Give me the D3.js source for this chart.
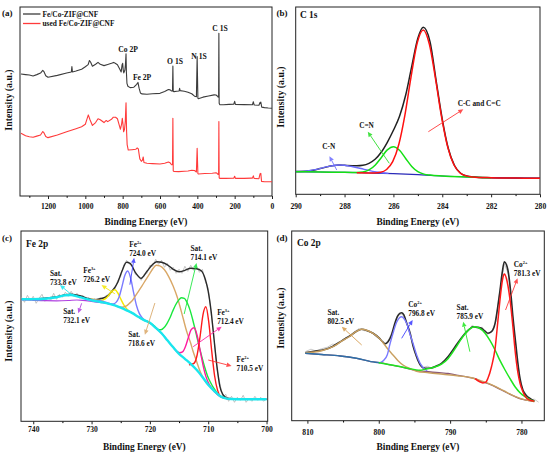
<!DOCTYPE html>
<html>
<head>
<meta charset="utf-8">
<script src="https://cdn.jsdelivr.net/npm/d3@7"></script>
<style>
body { margin: 0; background: #fff; }
text { font-family: "Liberation Serif", "Times New Roman", serif; font-weight: bold; fill: #111; }
</style>
</head>
<body>
<svg id="fig" width="550" height="455"></svg>
<script>
// ---------- (a) survey spectra : [binding energy, intensity a.u.] ----------
const surveyTicks = [0, 200, 400, 600, 800, 1000, 1200];
const surveyMinor = [100, 300, 500, 700, 900, 1100, 1300];
const seriesNames = ["Fe/Co-ZIF@CNF", "used Fe/Co-ZIF@CNF"];
const fresh = [[1345,64.9],[1320,64.6],[1300,64.4],[1280,63.9],[1260,64.6],[1240,65.4],[1228,66.8],[1222,66.2],[1212,64],[1200,63.2],[1150,64.2],[1100,65.4],[1075,66],[1072,68.8],[1069,66],[1050,66.5],[1020,67.4],[1000,68.7],[985,69.8],[978,72],[972,71.2],[962,69],[945,70],[932,71],[920,70],[900,69.3],[880,69.9],[860,70.5],[848,71],[838,70.4],[828,69.8],[816,67.5],[808,66],[803,69.8],[800,70.5],[797,67],[794,65.5],[788,67],[785,70],[782,75.5],[780,66],[777,60],[772,58.5],[760,57.8],[740,58],[725,59.5],[718,60.5],[712,57.5],[705,55],[698,54.5],[670,54.3],[640,54.6],[600,54.8],[575,55.8],[555,56.8],[546,56.6],[538,56],[533,56.2],[531,69.1],[529,55.8],[525,55.7],[510,55.9],[498,56],[495,57.4],[492,56.2],[470,55.9],[450,55.4],[430,54.6],[415,53.3],[405,53],[401,74],[397,52.3],[395,52],[370,52.8],[340,53.4],[310,54],[300,53.9],[293,53.4],[288,52.8],[286,53.2],[284.6,86.2],[283,49.6],[280,48.9],[260,48.8],[230,49],[205,49.1],[200,50.6],[196,49],[150,48.9],[105,48.8],[100,50.4],[96,48.7],[70,48.6],[64,50],[60,50.2],[55,47.6],[40,47.3],[20,47.1],[0,47]];
const used = [[1345,33.9],[1320,32.6],[1300,32.1],[1280,31.8],[1260,32.4],[1240,33],[1228,34.8],[1222,34.2],[1212,32.2],[1200,31.6],[1150,33],[1100,34.7],[1050,36.3],[1020,37.3],[1000,38.6],[993,40.8],[984,43.5],[975,41],[962,38],[945,39.5],[932,41.5],[920,41],[900,39.5],[888,40.6],[880,40],[860,41.2],[850,42.3],[838,42.3],[828,41.5],[818,38],[812,36],[806,38.5],[802,41.7],[798,38.5],[795,34.7],[790,36],[786,40],[782,49.9],[779,35],[776,28],[770,25.1],[750,25.3],[730,25.5],[722,26.2],[716,25.7],[712,23],[708,20.5],[700,19.2],[694,19.8],[690,21.5],[686,18.6],[670,18.2],[640,18],[600,17.8],[575,18.2],[555,18.8],[546,18.4],[538,17.4],[533,17.6],[531,41.7],[529,14.2],[525,13.9],[500,13.8],[470,14],[450,14.1],[430,14.5],[415,14.4],[405,13.6],[401,26],[397,12.8],[395,12.6],[360,12.8],[320,13],[300,13.2],[293,12.8],[288,12.3],[286,12.8],[284.6,40],[283,10.6],[280,10.3],[250,10.3],[205,10.4],[200,11.4],[196,10.3],[150,10.3],[110,10.4],[105,10.4],[100,11.6],[96,10.3],[70,10.1],[64,12.7],[60,12.9],[56,8.7],[40,8.5],[20,8.5],[0,8.5]];
const surveyPeaks = [["Co 2P",771,76.4],["Fe 2P",696,61.8],["O 1S",519.6,70.2],["N 1S",391,73],["C 1S",278.6,87.4]];

// ---------- (b) C 1s ----------
const c1sTicks = [290, 288, 286, 284, 282, 280];
const c1sMinor = [289, 287, 285, 283, 281];
const c1sBg = [[290,22.6],[289,22.3],[288,22],[287,21.3],[286,20.6],[285,19.6],[284,18.3],[283,17.3],[282,16.6],[281,16.2],[280,16]];
const c1sCN = [[290,22.8],[289.7,23],[289.2,24.6],[288.7,27.6],[288.2,29.3],[287.7,27.8],[287.2,25],[286.7,22.3],[286.2,20.9]];
const c1sCdN = [[290,22.6],[289,22.3],[288,22],[287.5,21.9],[287.25,22.4],[287,24.4],[286.75,29.1],[286.5,36.6],[286.25,44.4],[286,47.6],[285.75,44],[285.5,35.8],[285.25,27.9],[285,22.7],[284.75,20.2],[284.5,19.2],[284,18.3],[283,17.3],[282,16.6]];
const c1sCC = [[287.5,21.6],[286.78,21.4],[286.53,22],[286.28,24.8],[286.03,32.6],[285.78,49.8],[285.53,79.2],[285.28,117.2],[285.03,150.9],[284.78,164.4],[284.53,150.3],[284.28,116],[284.03,77.4],[283.78,47.4],[283.53,29.8],[283.28,21.5],[283.03,18.4],[282.78,17.4],[282,16.6],[281,16.2],[280,16]];
const c1sSum = [[290,22.8],[289.5,23.4],[289,25.7],[288.5,28.6],[288.2,29.3],[288,29],[287.5,28.5],[287.25,29],[287,31],[286.75,35],[286.5,42],[286.25,52],[286,64],[285.75,78],[285.5,99],[285.25,128],[285,156],[284.78,167],[284.5,152.5],[284.25,113.5],[284,75],[283.75,45.5],[283.5,28.8],[283.25,21],[283,18.2],[282.5,16.9],[282,16.6],[281,16.2],[280,16]];

// ---------- (c) Fe 2p ----------
const fe2pTicks = [740, 730, 720, 710, 700];
const fe2pMinor = [735, 725, 715, 705];
const fe2pRaw = [[742,124],[741.5,119],[741,126],[740.5,121],[740,125],[739.5,118],[739,123],[738.5,127],[738,120],[737.5,124],[737,121],[736.5,128],[736,122],[735.5,127],[735,124],[734.5,129],[734,125],[733.5,130],[733,125],[732.5,128],[732,123],[731.5,126],[731,121],[730.5,124],[730,120],[729.5,123],[729,120],[728.5,124],[728,122],[727.5,126],[727,125],[726.5,131],[726,132],[725.5,141],[725,145],[724.5,156],[724,161],[723.5,157],[723,156],[722.5,147],[722,146],[721.5,141],[721,147],[720.5,148],[720,156],[719.5,155],[719,162],[718.5,157],[718,161],[717.5,154],[717,158],[716.5,151],[716,154],[715.5,148],[715,152],[714.5,148],[714,155],[713.5,150],[713,156],[712.5,151],[712,155],[711.5,149],[711,152],[710.5,140],[710,133],[709.5,108],[709,84],[708.5,52],[708,38],[707.5,24],[707,27],[706.5,20],[706,25],[705.5,19],[705,24],[704.5,21],[704,26],[703.5,19],[703,23],[702.5,20],[702,25],[701.5,21],[701,24],[700.5,20],[700,23]];
const fe2pSum = [[742,122],[740,122.2],[738,123],[736,124.5],[734.5,126.5],[733.5,127],[732,125.5],[730.5,122.5],[729.5,121.5],[728.5,122.5],[727.5,124.5],[726.5,130],[725.5,139],[724.8,150],[724,159],[723.4,158],[722.5,149],[721.5,143],[720.5,150],[719.5,157],[718.8,159.6],[718,159],[717,156.5],[716,152],[715,149.5],[714,151],[713,153],[712,152.5],[711.2,150.5],[710.5,142],[710,130],[709.5,110],[709,82],[708.5,55],[708,35],[707.5,27],[707,24],[706,22.5],[700,22]];
const fe2pBg = [[742,122],[740,122],[738,122.5],[736,124],[734.5,126],[733.5,126.3],[732.5,125],[731,122.5],[730,121],[728.5,119.3],[727,117.5],[726,116],[725,113.6],[724,111],[723,108.2],[722,104.5],[721,101.2],[720,98.5],[719,93.5],[718,88],[717,81],[716,74],[715,67.5],[714,62.5],[713,57.5],[712,51.5],[711,44.3],[710,36.5],[709,30.5],[708,25.3],[707,23],[706,22.3],[704,22],[700,22]];
const fe2pSat732 = [[742,121.5],[740,121],[738,120.6],[736,120.5],[734,120.8],[732.5,121.3],[731.5,121],[730,120],[728.5,118.8],[727,117.3],[726,116]];
const fe2p726 = [[730,122],[729,121.1],[728.5,120.8],[728,121.5],[727.5,123.2],[727,126.5],[726.5,130.1],[726,131.5],[725.5,128.3],[725,122.4],[724.5,116.7],[724,112.7],[723.5,110.1],[723,108.3],[722.5,106.5],[722,104.5],[721,101.2],[720,98.5],[719,93.5]];
const fe2p724 = [[730,121.5],[728,119.8],[726.8,117.7],[726.3,117.3],[725.8,118.9],[725.3,124],[724.8,134.4],[724.3,145.8],[723.8,150.3],[723.3,143.3],[722.8,128.9],[722.3,115.8],[721.8,107.7],[721.3,103.4],[720.8,101],[720,98.5],[719,93.5],[718,88],[717,81]];
const fe2pSat718 = [[726,116],[725,114],[724,115.5],[723.5,118],[722.9,121.6],[722.2,128],[721.4,135],[720.6,142.5],[720,148],[719.5,152.5],[718.9,156],[718.3,155.5],[717.5,151.5],[716.8,145],[716,135],[715.3,124],[714.9,116],[714.3,103],[713.7,90],[713,78],[712.6,70],[712,60],[711.4,50],[711,45],[710.5,40],[710,36.5],[709,30.5],[708,25.3],[707,23]];
const fe2pSat714 = [[722,104.5],[721,101.2],[720.1,99],[719.1,94.5],[718.6,92],[718.1,91.5],[717.6,93.5],[717.1,97.5],[716.6,103],[716.1,110],[715.6,116.3],[715.1,120.9],[714.6,123.6],[714.1,123],[713.6,118.6],[713.1,110.9],[712.6,100.3],[712.1,88.4],[711.6,76],[711.1,64.5],[710.6,54],[710.1,45.1],[709.6,38.8],[709.1,33.6],[708.1,26],[707,23],[706,22.3]];
const fe2p712 = [[716,74],[715.4,69.9],[714.9,68.6],[714.4,69.4],[713.9,74.8],[713.4,83.8],[712.9,91.8],[712.4,93.5],[711.9,85.8],[711.4,71.3],[710.9,56.5],[710.4,44.9],[709.9,37.8],[709.4,33.2],[708.9,29.5],[708,25],[707,23],[706,22.3]];
const fe2p710 = [[713.3,56.5],[712.9,57],[712.4,58.2],[711.9,66.3],[711.4,84.5],[710.9,106.5],[710.4,114.5],[709.9,99],[709.4,70.3],[708.9,45.3],[708.4,31.2],[707.9,25],[707.4,23.5],[707,23],[706,22.3]];

// ---------- (d) Co 2p ----------
const co2pTicks = [810, 800, 790, 780];
const co2pMinor = [805, 795, 785];
const co2pRaw = [[810.3,69],[809.5,71.5],[808.8,69.8],[808,72],[807.2,73.5],[806.5,76.5],[805.8,76],[805,81.5],[804.2,84.5],[803.5,88.5],[802.8,92],[802,90],[801.2,89.5],[800.4,84],[799.7,80.5],[799.2,76],[798.6,81],[798,91],[797.3,105],[796.7,107],[796,96],[795.3,78],[794.6,60.5],[793.9,53],[793.2,54.5],[792.4,52],[791.6,56],[790.8,60],[790,67],[789.2,74],[788.4,83],[787.6,88],[786.9,95.5],[786.2,92],[785.5,93.5],[784.8,86],[784.2,89],[783.6,99],[783,131],[782.4,157],[781.8,146],[781.2,101],[780.6,61],[780,33],[779.4,27],[778.8,21],[778.2,21.5],[777.6,18.5]];
const co2pSum = [[810.3,68],[809,69.5],[808,70.5],[807,72.5],[806.4,74.5],[805.5,78.5],[804.5,83],[804,85],[803.2,89],[802.4,91.4],[801.6,90],[800.8,87.4],[800,83],[799.4,78.5],[799.1,77],[798.7,79],[798.2,86],[797.8,96],[797.4,104],[797,107.5],[796.8,108],[796.5,106],[796.1,98],[795.6,87.4],[795.2,75],[794.7,64],[794.2,56],[793.5,52.4],[792.8,52.5],[792,54.5],[791.2,57.4],[790.3,64],[789.3,74],[788.5,82],[787.9,87.4],[787.2,92],[786.8,94],[786.2,93.5],[785.6,92.4],[785.1,89.5],[784.7,87.5],[784.2,89],[783.7,97.4],[783.3,115],[783,130.7],[782.7,148],[782.4,159],[782.1,156],[781.9,150.7],[781.5,128],[781.2,104],[780.8,77],[780.5,57.4],[780.2,42],[779.8,30.7],[779.3,25],[778.8,22.4],[778.2,19.7]];
const co2pBg = [[810.3,67.4],[808,66.2],[805.4,64.7],[803.1,62.4],[800.5,58.5],[799.8,58],[798.2,55.5],[797,54],[795.9,52],[794.9,50.3],[793.5,49.3],[791.2,47.8],[790.3,47.4],[788.9,45.4],[787.5,43.5],[786.5,42],[785.6,39],[785.1,38],[784,35],[782.8,30.7],[781.5,26],[780.9,24],[780,21.5],[779.3,20.5],[778.2,19]];
const co2pSat802 = [[810.3,68],[808,70],[806.4,74],[805.2,79.5],[804,84.7],[803.2,89],[802.4,91.4],[801.6,90.2],[800.8,87.4],[800,83],[799.4,78],[798.7,71.5],[798,65.7],[797.3,60],[796.6,55.7],[795.6,52],[794.7,49.5],[793,48],[791,46.5],[789,45],[787,43],[785.5,39.5],[784,35.3],[782.5,30],[781,24.5],[779.5,20.8],[778.2,19.2]];
const co2p796 = [[799.8,58],[799.3,60.5],[798.8,66],[798.4,77.4],[797.9,90],[797.5,98.4],[797.1,103],[796.8,104],[796.5,102.5],[796.1,97.4],[795.6,86],[795.2,77.4],[794.7,66],[794.2,57.4],[793.7,52.5],[793.2,50]];
const co2pSat786 = [[800,58],[798,55.5],[796,52.5],[794.2,50.5],[793.5,51.5],[792.5,53],[791.2,56.5],[790.3,62],[789.3,72],[788.5,81],[787.9,87],[787.2,92],[786.6,94],[786,93],[785.1,87.5],[784.4,80],[783.7,70.7],[783,60],[782.3,50.7],[781.6,42],[780.9,34],[780.2,28],[779.5,24],[778.8,21],[778.2,19.5]];
const co2p781 = [[786.5,42],[785.4,37.8],[785,38.5],[784.7,42.4],[784.2,54],[783.7,72],[783.3,100],[782.9,128],[782.6,143],[782.4,146.7],[782.1,142],[781.6,120.7],[781.2,94],[780.9,70.7],[780.5,48],[780.2,37.4],[779.8,29],[779.5,24.5],[779,21],[778.2,19.5]];

// ---------- drawing ----------
const svg = d3.select("#fig");

function panel(o) {
  const g = svg.append("g");
  const x = d3.scaleLinear().domain(o.xd).range([o.l, o.r]);
  const y = d3.scaleLinear().domain(o.yd).range([o.b, o.t]);
  const id = "clip" + o.name;
  svg.append("clipPath").attr("id", id).append("rect")
    .attr("x", o.l).attr("y", o.t).attr("width", o.r - o.l).attr("height", o.b - o.t);
  g.append("g").attr("transform", `translate(0,${o.b})`)
    .call(d3.axisBottom(x).tickValues(o.minor).tickSize(1.8).tickFormat(""))
    .call(s => s.select(".domain").remove());
  const ax = g.append("g").attr("transform", `translate(0,${o.b})`)
    .call(d3.axisBottom(x).tickValues(o.ticks).tickSize(3).tickPadding(o.pad).tickFormat(d3.format("d")));
  ax.select(".domain").remove();
  ax.selectAll("line").attr("stroke", "#222");
  ax.selectAll("text").attr("font-size", 7.6).attr("font-family", null).attr("fill", "#111");
  g.append("rect").attr("x", o.l).attr("y", o.t).attr("width", o.r - o.l).attr("height", o.b - o.t)
    .attr("fill", "none").attr("stroke", "#222").attr("stroke-width", 1);
  g.append("text").attr("x", (o.l + o.r) / 2).attr("y", o.titleY).attr("text-anchor", "middle")
    .attr("font-size", 9.4).text("Binding Energy (eV)");
  g.append("text").attr("transform", `translate(${o.ylabX},${o.ylabY}) rotate(-90)`)
    .attr("text-anchor", "middle").attr("font-size", 9.8).text("Intensity (a.u.)");
  g.append("text").attr("x", o.tagX).attr("y", o.tagY).attr("font-size", 9).text(o.tag);
  if (o.head) g.append("text").attr("x", o.headX).attr("y", o.headY).attr("font-size", 9.4).text(o.head);
  const plot = g.append("g").attr("clip-path", `url(#${id})`);
  return { g, plot, x, y };
}

function draw(p, pts, color, w, curve) {
  const s = pts.slice().sort((a, b) => p.x(a[0]) - p.x(b[0]));
  p.plot.append("path")
    .attr("d", d3.line().x(d => p.x(d[0])).y(d => p.y(d[1])).curve(curve || d3.curveMonotoneX)(s))
    .attr("fill", "none").attr("stroke", color).attr("stroke-width", w)
    .attr("stroke-linejoin", "round");
}

function note(p, E, v, lines, size, anchor) {
  lines.forEach((str, i) => {
    const t = p.g.append("text").attr("x", p.x(E)).attr("y", p.y(v) + i * 8.8)
      .attr("font-size", size).attr("text-anchor", anchor || "start");
    const parts = str.split("^");
    t.append("tspan").text(parts[0]);
    if (parts[1]) t.append("tspan").attr("dy", -3).attr("font-size", size * 0.6).text(parts[1]);
  });
}

function arrow(p, from, to, color) {
  const x1 = p.x(from[0]), y1 = p.y(from[1]), x2 = p.x(to[0]), y2 = p.y(to[1]);
  const a = Math.atan2(y2 - y1, x2 - x1), L = 5, hw = 2.3;
  const bx = x2 - L * Math.cos(a), by = y2 - L * Math.sin(a);
  p.g.append("line").attr("x1", x1).attr("y1", y1).attr("x2", bx).attr("y2", by)
    .attr("stroke", color).attr("stroke-width", 1).attr("opacity", 0.85);
  p.g.append("path").attr("fill", color).attr("opacity", 0.85)
    .attr("d", `M${x2},${y2}L${bx - hw * Math.sin(a)},${by + hw * Math.cos(a)}L${bx + hw * Math.sin(a)},${by - hw * Math.cos(a)}Z`);
}

// (a)
const pa = panel({ name: "a", l: 20, r: 272, t: 7, b: 196, xd: [1350, 0], yd: [1.05, 100],
  ticks: surveyTicks, minor: surveyMinor, pad: 4.4, titleY: 224.5, ylabX: 12, ylabY: 100,
  tag: "(a)", tagX: 2, tagY: 16 });
draw(pa, fresh, "#3c3c3c", 1.1, d3.curveLinear);
draw(pa, used, "#ff3b3b", 1.1, d3.curveLinear);
surveyPeaks.forEach(d => note(pa, d[1], d[2], [d[0]], 7.6, "middle"));
[["#3c3c3c", 14], ["#ff3b3b", 23.5]].forEach((c, i) => {
  pa.g.append("line").attr("x1", 23).attr("x2", 40.5).attr("y1", c[1]).attr("y2", c[1])
    .attr("stroke", c[0]).attr("stroke-width", 1.3);
  pa.g.append("text").attr("x", 42.5).attr("y", c[1] + 2.6).attr("font-size", 7.4).text(seriesNames[i]);
});

// (b)
const pb = panel({ name: "b", l: 295.7, r: 540, t: 7, b: 194.3, xd: [290, 280], yd: [0, 187.3],
  ticks: c1sTicks, minor: c1sMinor, pad: 6.1, titleY: 224.5, ylabX: 284, ylabY: 97,
  tag: "(b)", tagX: 276.5, tagY: 16, head: "C 1s", headX: 300, headY: 18 });
draw(pb, c1sSum, "#222", 1.5);
draw(pb, c1sBg, "#2a2ab8", 1.2);
draw(pb, c1sCN, "#6c6cff", 1.3);
draw(pb, c1sCdN, "#14e014", 1.5);
draw(pb, c1sCC, "#ff1010", 1.5);
note(pb, 288.65, 45, ["C-N"], 7.3, "middle");
note(pb, 287.1, 66.3, ["C=N"], 7.3, "middle");
note(pb, 283.37, 88.3, ["C-C and C=C"], 7.3);
arrow(pb, [288.32, 24.3], [288.62, 38], "#6c6cff");
arrow(pb, [286.17, 31], [287.05, 62.6], "#22dd22");
arrow(pb, [284.57, 62.6], [283.14, 85], "#ff3030");

// (c)
const pc = panel({ name: "c", l: 21, r: 267.7, t: 231, b: 421.3, xd: [742.1, 699.8], yd: [0, 190.3],
  ticks: fe2pTicks, minor: fe2pMinor, pad: 2.8, titleY: 449.5, ylabX: 12, ylabY: 331,
  tag: "(c)", tagX: 2, tagY: 241, head: "Fe 2p", headX: 26, headY: 246.5 });
draw(pc, fe2pRaw, "#b4b4b4", 0.8, d3.curveLinear);
draw(pc, fe2pSum, "#2a2a2a", 1.4);
draw(pc, fe2pSat732, "#b040e0", 1.2);
draw(pc, fe2p726, "#f5e800", 1.4);
draw(pc, fe2p724, "#7a7aff", 1.4);
draw(pc, fe2pSat718, "#d9a766", 1.4);
draw(pc, fe2pSat714, "#18e83c", 1.4);
draw(pc, fe2p712, "#ff1aa0", 1.4);
draw(pc, fe2p710, "#ff1a1a", 1.4);
draw(pc, fe2pBg, "#19e6ee", 2.4);
note(pc, 723.55, 174.3, ["Fe^2+", "724.0 eV"], 7.3);
note(pc, 713.03, 170.6, ["Sat.", "714.1 eV"], 7.3);
note(pc, 731.43, 148.3, ["Fe^3+", "726.2 eV"], 7.3);
note(pc, 737.14, 145.3, ["Sat.", "733.8 eV"], 7.3);
note(pc, 734.86, 107.3, ["Sat.", "732.1 eV"], 7.3);
note(pc, 723.72, 84, ["Sat.", "718.6 eV"], 7.3);
note(pc, 708.47, 106.3, ["Fe^3+", "712.4 eV"], 7.3);
note(pc, 705.14, 59.6, ["Fe^2+", "710.5 eV"], 7.3);
arrow(pc, [723.43, 136.6], [722.7, 163.5], "#3a3aff");
arrow(pc, [714.12, 107.3], [712.0, 158.3], "#18e83c");
arrow(pc, [726.0, 127.5], [728.3, 136.2], "#f5e800");
arrow(pc, [733.42, 126.6], [735.42, 136.2], "#19e6ee");
arrow(pc, [731.7, 118], [732.29, 108], "#b040e0");
arrow(pc, [719.14, 118.3], [720.86, 86.6], "#d9a766");
arrow(pc, [712.58, 74.6], [707.7, 94.6], "#ff1aa0");
arrow(pc, [710.0, 61.3], [706.0, 55.3], "#ff3030");

// (d)
const pd = panel({ name: "d", l: 291.7, r: 544.3, t: 231, b: 420.7, xd: [812.2, 776.8], yd: [0, 189.7],
  ticks: co2pTicks, minor: co2pMinor, pad: 5.7, titleY: 449.5, ylabX: 284, ylabY: 318,
  tag: "(d)", tagX: 276.5, tagY: 240.5, head: "Co 2p", headX: 297, headY: 245.5 });
draw(pd, co2pRaw, "#c4c4c4", 0.9, d3.curveLinear);
draw(pd, co2pSum, "#2a2a2a", 1.6);
draw(pd, co2pBg, "#8a5878", 1.3);
draw(pd, co2pSat802, "#c9a060", 1.4);
draw(pd, co2pBg.filter(d => d[0] >= 799.8), "#2d6fa8", 1.4);
draw(pd, co2p796, "#7a7aff", 1.4);
draw(pd, co2pSat786, "#1ee61e", 1.5);
draw(pd, co2p781, "#ff1a1a", 1.5);
note(pd, 807.2, 105.7, ["Sat.", "802.5 eV"], 7.3);
note(pd, 795.86, 113.4, ["Co^2+", "796.8 eV"], 7.3);
note(pd, 789.09, 110.7, ["Sat.", "785.9 eV"], 7.3);
note(pd, 781.07, 154, ["Co^2+", "781.3 eV"], 7.3);
arrow(pd, [802.39, 75.7], [805.18, 94], "#d59a4a");
arrow(pd, [796.79, 82.4], [795.25, 100.7], "#3a3aff");
arrow(pd, [787.23, 69], [788.16, 99], "#1ee61e");
arrow(pd, [782.23, 110.7], [780.55, 142.4], "#ff3030");
</script>
</body>
</html>
